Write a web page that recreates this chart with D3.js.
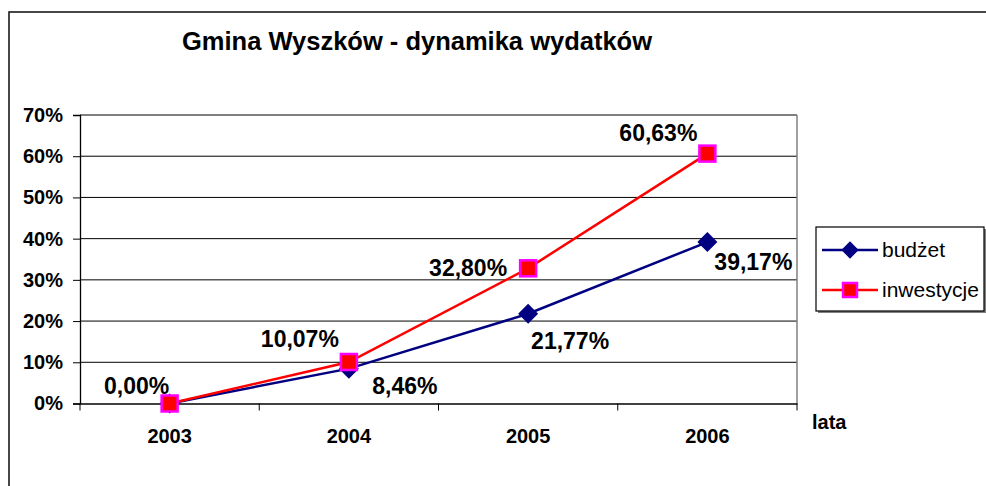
<!DOCTYPE html>
<html>
<head>
<meta charset="utf-8">
<script src="https://cdn.jsdelivr.net/npm/d3@7"></script>
<style>
  body { margin: 0; background: #fff; }
  svg { display: block; font-family: Arial, "Liberation Sans", sans-serif; }
</style>
</head>
<body>
<svg id="chart" width="986" height="486"></svg>
<script>
// data
var years = ["2003", "2004", "2005", "2006"];
var budzet = [0, 0.0846, 0.2177, 0.3917];
var inwestycje = [0, 0.1007, 0.3280, 0.6063];
var yTicks = [0, 0.1, 0.2, 0.3, 0.4, 0.5, 0.6, 0.7];

// label nudges (dx, dy from point), like the excel layout; null = no label
var budzetLabelPos = [null, [56, 25], [42, 35], [46, 28]];
var inwLabelPos = [[-33, -10], [-49, -15], [-60, 8], [-49, -13]];

var pl = d3.formatLocale({decimal: ",", thousands: " ", grouping: [3], currency: ["", " zł"]});
var fmt = pl.format(".2%");

var svg = d3.select("#chart");

// outer frame
svg.append("rect")
  .attr("x", 9).attr("y", 12).attr("width", 1000).attr("height", 500)
  .attr("fill", "none").attr("stroke", "#1a1a1a").attr("stroke-width", 1.6);

svg.append("text")
  .attr("x", 417).attr("y", 50)
  .attr("text-anchor", "middle")
  .style("font-size", "25.5px").style("font-weight", "bold")
  .text("Gmina Wyszków - dynamika wydatków");

var x = d3.scaleBand().domain(years).range([80, 797]);
var y = d3.scaleLinear().domain([0, 0.7]).range([403.5, 115]);

// gridlines
svg.append("g").selectAll("line").data(yTicks.slice(1)).enter().append("line")
  .attr("x1", 80).attr("x2", 797)
  .attr("y1", function(d){ return y(d) }).attr("y2", function(d){ return y(d) })
  .attr("stroke", "#000").attr("stroke-width", 1);

// right border of plot area
svg.append("line")
  .attr("x1", 797).attr("x2", 797).attr("y1", y(0.7)).attr("y2", y(0))
  .attr("stroke", "#808080").attr("stroke-width", 1.5);

// y axis
var yAxis = svg.append("g").attr("transform", "translate(80,0)")
  .call(d3.axisLeft(y).tickValues(yTicks).tickSize(7).tickPadding(10)
    .tickFormat(d3.format(".0%")));
yAxis.select(".domain").attr("stroke", "#000").attr("stroke-width", 1.3);
yAxis.selectAll(".tick line").attr("stroke", "#000");
yAxis.selectAll("text")
  .attr("fill", "#000")
  .style("font-size", "20px").style("font-weight", "bold")
  .style("font-family", "Arial, 'Liberation Sans', sans-serif");

// x axis
var xAxis = svg.append("g").attr("transform", "translate(0," + y(0) + ")")
  .call(d3.axisBottom(x).tickSize(0).tickPadding(25));
xAxis.select(".domain").attr("stroke", "#000").attr("stroke-width", 1.3);
xAxis.selectAll("text")
  .attr("fill", "#000")
  .style("font-size", "20px").style("font-weight", "bold")
  .style("font-family", "Arial, 'Liberation Sans', sans-serif");
var bounds = years.map(function(d){ return x(d) }).concat([x.range()[1]]);
xAxis.selectAll(".btick").data(bounds).enter().append("line")
  .attr("class", "btick")
  .attr("x1", function(d){ return d }).attr("x2", function(d){ return d })
  .attr("y1", 0).attr("y2", 7)
  .attr("stroke", "#000");

svg.append("text")
  .attr("x", 812).attr("y", 429)
  .style("font-size", "20px").style("font-weight", "bold")
  .text("lata");

var cx = function(d, i){ return x(years[i]) + x.bandwidth() / 2 };
var line = d3.line().x(cx).y(function(d){ return y(d) });

// budzet
svg.append("path").datum(budzet)
  .attr("d", line).attr("fill", "none")
  .attr("stroke", "#000080").attr("stroke-width", 2.5);
svg.append("g").selectAll("path").data(budzet).enter().append("path")
  .attr("d", d3.symbol().type(d3.symbolSquare).size(200))
  .attr("transform", function(d, i){ return "translate(" + cx(d, i) + "," + y(d) + ") rotate(45)" })
  .attr("fill", "#000080");

// inwestycje
svg.append("path").datum(inwestycje)
  .attr("d", line).attr("fill", "none")
  .attr("stroke", "#ff0000").attr("stroke-width", 2.5);
svg.append("g").selectAll("rect").data(inwestycje).enter().append("rect")
  .attr("x", function(d, i){ return cx(d, i) - 8 })
  .attr("y", function(d){ return y(d) - 8 })
  .attr("width", 16).attr("height", 16)
  .attr("fill", "#ff0000").attr("stroke", "#ff00ff").attr("stroke-width", 2.5);

// data labels
function labels(data, pos) {
  var pts = data.map(function(d, i){ return {v: d, i: i} })
    .filter(function(p){ return pos[p.i] });
  svg.append("g").selectAll("text").data(pts).enter().append("text")
    .attr("x", function(p){ return cx(p.v, p.i) + pos[p.i][0] })
    .attr("y", function(p){ return y(p.v) + pos[p.i][1] })
    .attr("text-anchor", "middle")
    .style("font-size", "23px").style("font-weight", "bold")
    .text(function(p){ return fmt(p.v) });
}
labels(budzet, budzetLabelPos);
labels(inwestycje, inwLabelPos);

// legend
var lg = svg.append("g").attr("transform", "translate(816,227)");
lg.append("rect").attr("x", 2).attr("y", 2).attr("width", 168).attr("height", 84).attr("fill", "#808080");
lg.append("rect").attr("width", 168).attr("height", 84)
  .attr("fill", "#fff").attr("stroke", "#000").attr("stroke-width", 1.2);
var items = [{name: "budżet", color: "#000080"}, {name: "inwestycje", color: "#ff0000"}];
items.forEach(function(it, i){
  var ly = 23 + i * 40;
  lg.append("line").attr("x1", 6).attr("x2", 62).attr("y1", ly).attr("y2", ly)
    .attr("stroke", it.color).attr("stroke-width", 2.5);
  if (i == 0) {
    lg.append("path").attr("d", d3.symbol().type(d3.symbolSquare).size(150))
      .attr("transform", "translate(34," + ly + ") rotate(45)").attr("fill", it.color);
  } else {
    lg.append("rect").attr("x", 27).attr("y", ly - 7).attr("width", 14).attr("height", 14)
      .attr("fill", "#ff0000").attr("stroke", "#ff00ff").attr("stroke-width", 2.5);
  }
  lg.append("text").attr("x", 66).attr("y", ly + 7)
    .style("font-size", "21px").text(it.name);
});
</script>
</body>
</html>
